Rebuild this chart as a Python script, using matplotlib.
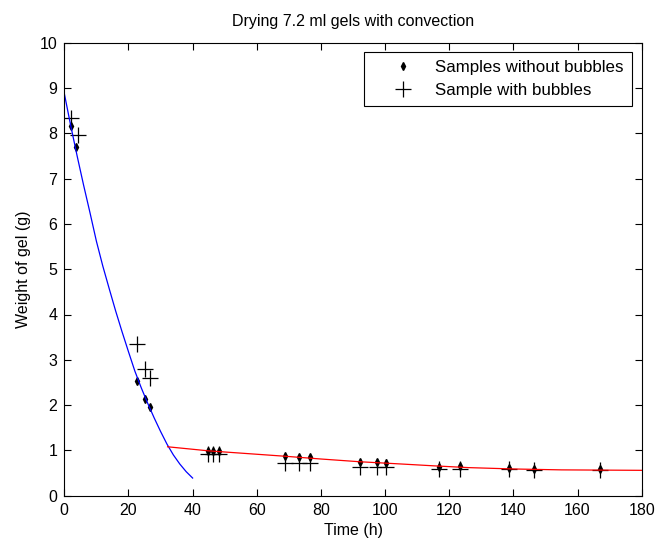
import matplotlib
matplotlib.use("Agg")
import matplotlib.pyplot as plt

plt.rcParams['font.family'] = ['Liberation Sans', 'DejaVu Sans']

# samples without bubbles (diamonds)
t_plain = [2.1, 3.65, 22.8, 25.2, 26.7, 44.8, 46.5, 48.2, 68.8, 73.3, 76.6,
           92.2, 97.6, 100.2, 116.7, 123.4, 138.6, 146.5, 167.1]
w_plain = [8.16, 7.69, 2.54, 2.13, 1.95, 0.98, 0.99, 0.99, 0.87, 0.85, 0.85,
           0.74, 0.74, 0.72, 0.64, 0.66, 0.62, 0.58, 0.58]

# sample with bubbles (crosses)
t_bubble = [2.1, 4.4, 22.8, 25.2, 26.7, 44.8, 46.5, 48.2, 68.8, 73.3, 76.6,
            92.2, 97.6, 100.2, 116.7, 123.4, 138.6, 146.5, 167.1]
w_bubble = [8.34, 7.96, 3.35, 2.80, 2.59, 0.91, 0.91, 0.91, 0.73, 0.73, 0.73,
            0.64, 0.64, 0.64, 0.58, 0.58, 0.58, 0.57, 0.57]

# fitted curves
t_fast = [0, 2, 4, 6, 8, 10, 12, 14, 16, 18, 20, 22, 24, 26, 28, 30, 32, 34, 36, 38, 40]
w_fast = [8.88, 8.17, 7.5, 6.86, 6.25, 5.62, 5.07, 4.57, 4.08, 3.62, 3.18, 2.75, 2.38,
          2.04, 1.72, 1.42, 1.14, 0.9, 0.7, 0.53, 0.39]

t_slow = [32.2, 45, 57, 69, 80, 92, 105, 115, 126, 140, 155, 180]
w_slow = [1.08, 0.99, 0.93, 0.87, 0.81, 0.75, 0.70, 0.66, 0.62, 0.59, 0.57, 0.56]

fig = plt.figure(figsize=(6.59, 5.45), dpi=100)
ax = fig.add_axes([64.3 / 659, 1 - 495.7 / 545, 577.4 / 659, 453 / 545])

ax.plot(t_plain, w_plain, 'kd', markersize=4, label='Samples without bubbles')
ax.plot(t_bubble, w_bubble, 'k+', markersize=11, markeredgewidth=0.9, label='Sample with bubbles')
ax.plot(t_fast, w_fast, color='#0000ff', linewidth=0.9)
ax.plot(t_slow, w_slow, color='#ff0000', linewidth=0.9)

ax.set_xlim(0, 180)
ax.set_ylim(0, 10)
ax.set_xticks(range(0, 181, 20))
ax.set_yticks(range(0, 11))
ax.tick_params(direction='in', length=5, width=0.8, top=True, right=True, labelsize=11.5, pad=5)
for s in ax.spines.values():
    s.set_linewidth(0.8)

ax.set_title('Drying 7.2 ml gels with convection', fontsize=11.5, pad=12)
ax.set_xlabel('Time (h)', fontsize=11.5, labelpad=4)
ax.set_ylabel('Weight of gel (g)', fontsize=11.5, labelpad=6)

leg = ax.legend(loc='upper right', bbox_to_anchor=(0.984, 0.980), borderaxespad=0,
                fontsize=12.2, fancybox=False, framealpha=1, edgecolor='black',
                handlelength=3.6, handletextpad=0.1, borderpad=0.5, labelspacing=0.45)
leg.get_frame().set_linewidth(0.8)

fig.savefig('out.png', dpi=100)
